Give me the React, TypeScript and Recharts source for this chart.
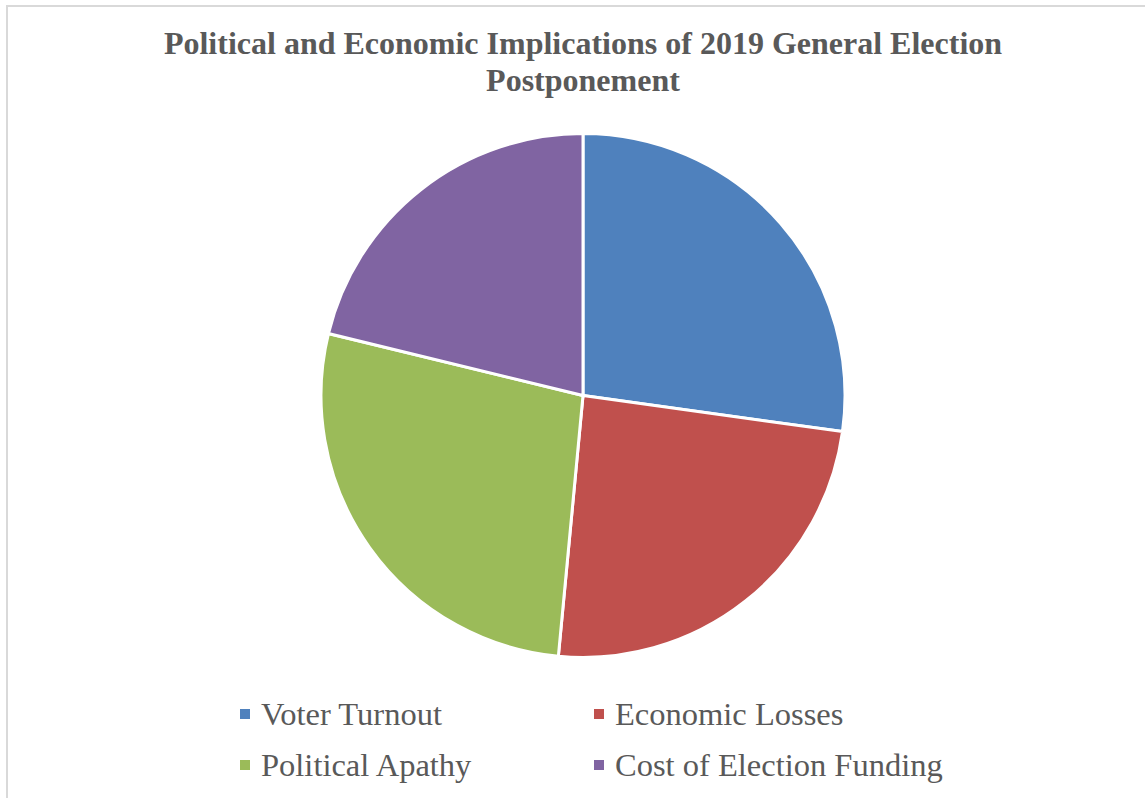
import React from 'react';
import { PieChart, Pie, Cell, Legend } from 'recharts';

const categories = ['Voter Turnout', 'Economic Losses', 'Political Apathy', 'Cost of Election Funding'];
const shares = [27.2, 24.3, 27.3, 21.2];
const colors = ['#4F81BD', '#C0504D', '#9BBB59', '#8064A2'];

const titleLines = ['Political and Economic Implications of 2019 General Election', 'Postponement'];

const data = categories.map((name, i) => ({ name, value: shares[i] }));

const FONT = '"Liberation Serif", "Times New Roman", serif';

const LegendGrid = () => (
  <div style={{ position: 'relative', width: 760, height: 110 }}>
    {categories.map((name, i) => (
      <div
        key={name}
        style={{
          position: 'absolute',
          left: (i % 2) * 354,
          top: Math.floor(i / 2) * 51,
          display: 'flex',
          alignItems: 'center',
          fontFamily: FONT,
          fontSize: 32.5,
          color: '#595959',
          whiteSpace: 'nowrap',
          lineHeight: '34px',
        }}
      >
        <span style={{ display: 'inline-block', width: 10, height: 10, background: colors[i], marginRight: 11 }} />
        {name}
      </div>
    ))}
  </div>
);

export default function App() {
  return (
    <div style={{ position: 'fixed', left: 0, top: 0, width: 1145, height: 798, overflow: 'hidden', background: '#fff' }}>
      <div
        style={{
          position: 'absolute',
          left: 6,
          top: 5,
          width: 1160,
          height: 820,
          border: '2px solid #d9d9d9',
        }}
      />
      <div
        style={{
          position: 'absolute',
          left: 0,
          top: 25,
          width: 1166,
          textAlign: 'center',
          fontFamily: FONT,
          fontWeight: 'bold',
          fontSize: 32,
          lineHeight: '37px',
          color: '#595959',
        }}
      >
        {titleLines.map((t) => (
          <div key={t}>{t}</div>
        ))}
      </div>
      <div style={{ position: 'absolute', left: 0, top: 0 }}>
        <PieChart width={1145} height={798} margin={{ top: 0, right: 0, bottom: 0, left: 0 }}>
          <Pie
            data={data}
            dataKey="value"
            nameKey="name"
            cx={583}
            cy={395.5}
            outerRadius={262}
            startAngle={90}
            endAngle={-270}
            stroke="#ffffff"
            strokeWidth={3}
            isAnimationActive={false}
          >
            {data.map((d, i) => (
              <Cell key={d.name} fill={colors[i]} />
            ))}
          </Pie>
          <Legend
            content={() => <LegendGrid />}
            wrapperStyle={{ position: 'absolute', left: 240, top: 697, width: 760, height: 110 }}
          />
        </PieChart>
      </div>
    </div>
  );
}
